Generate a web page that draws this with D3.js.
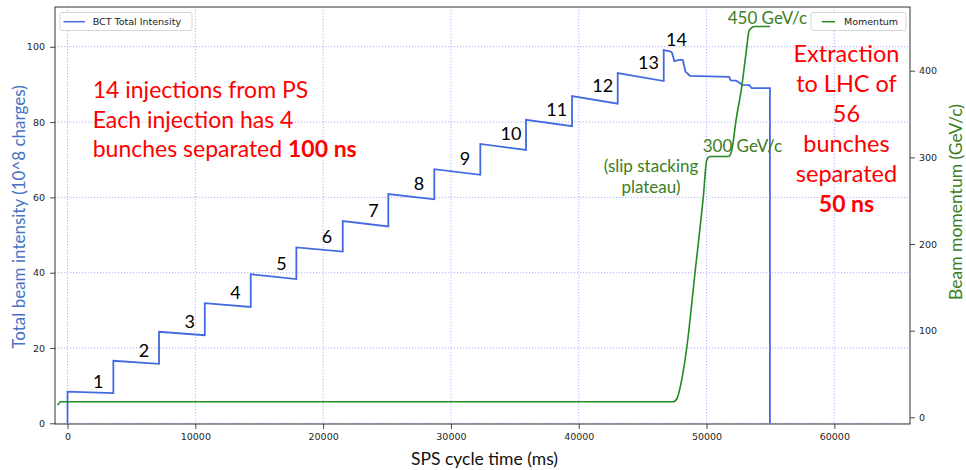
<!DOCTYPE html>
<html>
<head>
<meta charset="utf-8">
<script src="https://cdn.jsdelivr.net/npm/d3@7"></script>
<style>
  body { margin: 0; background: #fff; }
  svg { display: block; }
</style>
</head>
<body>
<svg id="chart"></svg>
<script>
// values
const injectionTimes = [0, 3585, 7160, 10740, 14335, 17905, 21535, 25100, 28700, 32300, 35875, 39475, 43050, 46650];
const stepStart = [8.4, 16.6, 24.3, 31.9, 39.6, 46.7, 53.7, 60.9, 67.5, 74.2, 80.6, 86.9, 93.0, 99.1];
const stepEnd = [8.0, 15.8, 23.4, 30.9, 38.3, 45.6, 52.3, 59.5, 66.0, 72.6, 78.9, 84.9, 90.9];
// after the last injection: slip stacking, ramp and extraction
const tailTimes = [47150, 47300, 47480, 47950, 48150, 48350, 48700, 51760, 51900, 52300, 52550, 52800, 53350, 53540, 54960, 54960];
const tailIntensity = [98.8, 98.4, 96.2, 96.6, 96.5, 93.4, 92.3, 92.0, 91.1, 91.0, 90.5, 89.9, 89.8, 89.0, 89.0, 0];

const momentumTimes = [-770, -530, 47400, 47700, 48000, 48450, 49100, 49750, 50020, 50270, 51710, 51970, 52310, 52750, 53090, 53350, 53790, 54970];
const momentumValues = [14, 18, 18, 22, 39, 80, 167, 255, 297, 301, 301, 308, 343, 381, 420, 447, 451, 451];

const xTicks = [0, 10000, 20000, 30000, 40000, 50000, 60000];
const leftTicks = [0, 20, 40, 60, 80, 100];
const rightTicks = [0, 100, 200, 300, 400];
const injectionLabels = ["1", "2", "3", "4", "5", "6", "7", "8", "9", "10", "11", "12", "13", "14"];

const width = 966;
const height = 470;
const margin = { top: 7, right: 56, bottom: 46, left: 55 };
const plotRight = width - margin.right;
const plotBottom = height - margin.bottom;

const svg = d3.select("#chart")
  .attr("width", width)
  .attr("height", height);

const x = d3.scaleLinear().domain([-980, 65920]).range([margin.left, plotRight]);
const yLeft = d3.scaleLinear().domain([-0.19, 110.57]).range([plotBottom, margin.top]);
const yRight = d3.scaleLinear().domain([-7.7, 473.5]).range([plotBottom, margin.top]);

// dotted grid, only for bottom and left ticks
const grid = svg.append("g")
  .attr("stroke", "#9c9cff")
  .attr("stroke-width", 0.8)
  .attr("stroke-dasharray", "1.2,1.8");
grid.selectAll(".gx").data(xTicks).join("line")
  .attr("class", "gx")
  .attr("x1", d => x(d)).attr("x2", d => x(d))
  .attr("y1", margin.top).attr("y2", plotBottom);
grid.selectAll(".gy").data(leftTicks).join("line")
  .attr("class", "gy")
  .attr("x1", margin.left).attr("x2", plotRight)
  .attr("y1", d => yLeft(d)).attr("y2", d => yLeft(d));

// build the stepped intensity trace
const intensity = [[injectionTimes[0], 0]];
injectionTimes.forEach((t, i) => {
  intensity.push([t, stepStart[i]]);
  if (i < stepEnd.length) intensity.push([injectionTimes[i + 1], stepEnd[i]]);
});
tailTimes.forEach((t, i) => intensity.push([t, tailIntensity[i]]));

const momentum = momentumTimes.map((t, i) => [t, momentumValues[i]]);

svg.append("clipPath").attr("id", "plot-clip")
  .append("rect")
  .attr("x", margin.left).attr("y", margin.top)
  .attr("width", plotRight - margin.left).attr("height", plotBottom - margin.top);

svg.append("path")
  .datum(intensity)
  .attr("clip-path", "url(#plot-clip)")
  .attr("fill", "none")
  .attr("stroke", "#4169e1")
  .attr("stroke-width", 1.8)
  .attr("d", d3.line().x(d => x(d[0])).y(d => yLeft(d[1])));

svg.append("path")
  .datum(momentum)
  .attr("clip-path", "url(#plot-clip)")
  .attr("fill", "none")
  .attr("stroke", "#228b22")
  .attr("stroke-width", 1.6)
  .attr("d", d3.line().curve(d3.curveMonotoneX).x(d => x(d[0])).y(d => yRight(d[1])));

// axes
const tickFont = (g) => {
  g.select(".domain").remove();
  g.selectAll("line").attr("stroke", "#333").attr("stroke-width", 0.9);
  g.selectAll("text").attr("fill", "#262626").style("font", "9.5px 'DejaVu Sans'");
};

svg.append("g")
  .attr("transform", `translate(0,${plotBottom})`)
  .call(d3.axisBottom(x).tickValues(xTicks).tickFormat(d3.format("d")).tickSize(5).tickPadding(4))
  .call(tickFont);

svg.append("g")
  .attr("transform", `translate(${margin.left},0)`)
  .call(d3.axisLeft(yLeft).tickValues(leftTicks).tickSize(5).tickPadding(5))
  .call(tickFont);

svg.append("g")
  .attr("transform", `translate(${plotRight},0)`)
  .call(d3.axisRight(yRight).tickValues(rightTicks).tickSize(5).tickPadding(4))
  .call(tickFont);

// frame
svg.append("rect")
  .attr("x", margin.left).attr("y", margin.top)
  .attr("width", plotRight - margin.left).attr("height", plotBottom - margin.top)
  .attr("fill", "none")
  .attr("stroke", "#333")
  .attr("stroke-width", 1);

// axis titles
svg.append("text")
  .attr("transform", `translate(${(margin.left + plotRight) / 2 + 2},465)`)
  .attr("text-anchor", "middle")
  .style("font", "17.5px Lato")
  .attr("fill", "#111")
  .text("SPS cycle time (ms)");

svg.append("text")
  .attr("transform", "translate(25,217) rotate(-90)")
  .attr("text-anchor", "middle")
  .style("font", "17px Lato")
  .attr("fill", "#4472c4")
  .text("Total beam intensity (10^8 charges)");

svg.append("text")
  .attr("transform", "translate(962,202) rotate(-90)")
  .attr("text-anchor", "middle")
  .style("font", "17.5px Lato")
  .attr("fill", "#3b7d23")
  .text("Beam momentum (GeV/c)");

// legends
function legend(x0, w, lineX1, lineX2, textX, color, label) {
  const g = svg.append("g");
  g.append("rect")
    .attr("x", x0).attr("y", 12.5)
    .attr("width", w).attr("height", 18)
    .attr("rx", 2)
    .attr("fill", "#fff").attr("fill-opacity", 0.85)
    .attr("stroke", "#d6d6d6");
  g.append("line")
    .attr("x1", lineX1).attr("x2", lineX2)
    .attr("y1", 21.7).attr("y2", 21.7)
    .attr("stroke", color).attr("stroke-width", 1.5);
  g.append("text")
    .attr("x", textX).attr("y", 25)
    .style("font", "9.5px 'DejaVu Sans'")
    .attr("fill", "#222")
    .text(label);
}
legend(60, 132, 63.5, 85, 92.7, "#4169e1", "BCT Total Intensity");
legend(811, 95, 821.7, 835, 844, "#228b22", "Momentum");

// injection numbers
svg.append("g").selectAll("text")
  .data(injectionLabels)
  .join("text")
  .attr("x", (d, i) => x(injectionTimes[i] + (i === 13 ? 1000 : 2400)))
  .attr("y", (d, i) => yLeft(stepStart[i]) - 4)
  .attr("text-anchor", "middle")
  .style("font", "18px Lato")
  .attr("fill", "#000")
  .text(d => d);

// red notes
const leftNote = svg.append("text")
  .style("font", "23px Lato")
  .attr("fill", "#ff0000");
leftNote.append("tspan").attr("x", 92.7).attr("y", 98.3).text("14 injections from PS");
leftNote.append("tspan").attr("x", 92.7).attr("y", 128.3).text("Each injection has 4");
leftNote.append("tspan").attr("x", 92.7).attr("y", 157.3).text("bunches separated ");
leftNote.append("tspan").attr("font-weight", "bold").text("100 ns");

const rightLines = ["Extraction", "to LHC of", "56", "bunches", "separated"];
svg.append("g").selectAll("text")
  .data(rightLines)
  .join("text")
  .attr("x", 846.5)
  .attr("y", (d, i) => 62 + i * 30)
  .attr("text-anchor", "middle")
  .style("font", "23.5px Lato")
  .attr("fill", "#ff0000")
  .text(d => d);
svg.append("text")
  .attr("x", 846.5).attr("y", 212)
  .attr("text-anchor", "middle")
  .style("font", "bold 23px Lato")
  .attr("fill", "#ff0000")
  .text("50 ns");

// green notes
const greenNote = svg.append("text")
  .attr("text-anchor", "middle")
  .style("font", "17px Lato")
  .attr("fill", "#3b7d23");
greenNote.append("tspan").attr("x", 651).attr("y", 171.5).text("(slip stacking");
greenNote.append("tspan").attr("x", 651).attr("y", 193).text("plateau)");

svg.append("text")
  .attr("x", 702.7).attr("y", 151.7)
  .style("font", "17px Lato")
  .attr("fill", "#3b7d23")
  .text("300 GeV/c");

svg.append("text")
  .attr("x", 727.7).attr("y", 24)
  .style("font", "17px Lato")
  .attr("fill", "#3b7d23")
  .text("450 GeV/c");
</script>
</body>
</html>
